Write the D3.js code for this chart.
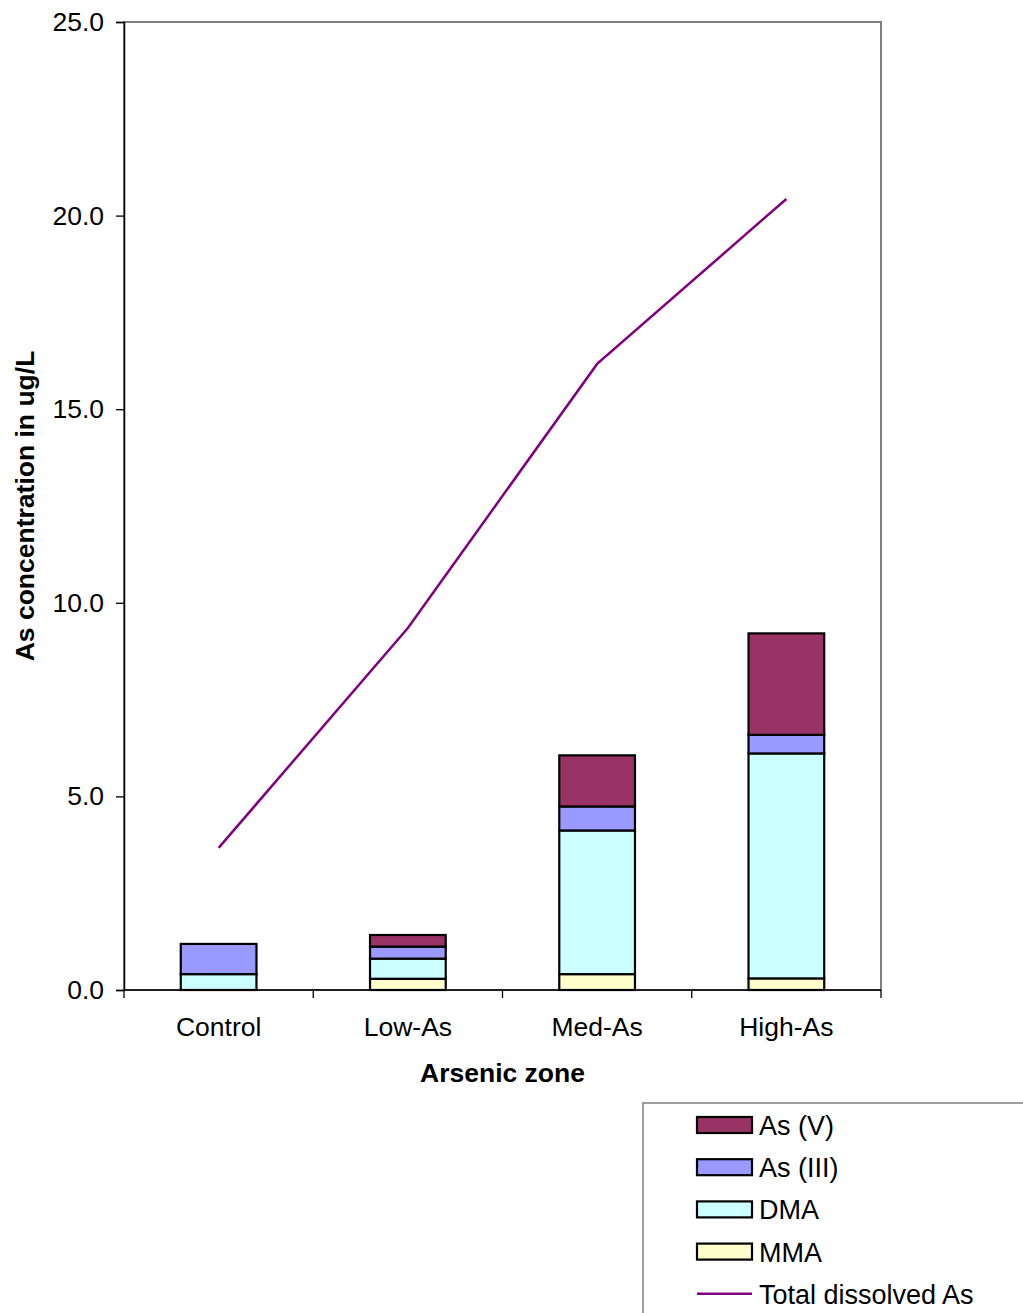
<!DOCTYPE html>
<html>
<head>
<meta charset="utf-8">
<script src="https://cdn.jsdelivr.net/npm/d3@7"></script>
<style>
  html, body { margin: 0; padding: 0; background: #fff; }
  svg { display: block; font-family: "Liberation Sans", Arial, sans-serif; }
</style>
</head>
<body>
<svg id="chart" width="1023" height="1313"></svg>
<script>
// Arsenic species by zone (ug/L)
const zones = ["Control", "Low-As", "Med-As", "High-As"];
const mma   = [0.00, 0.29, 0.41, 0.30];
const dma   = [0.41, 0.52, 3.71, 5.81];
const as3   = [0.78, 0.31, 0.62, 0.48];
const as5   = [0.00, 0.30, 1.32, 2.62];
const totalDissolved = [3.67, 9.35, 16.17, 20.43];
const yTicks = [0, 5, 10, 15, 20, 25];

// stacking order bottom → top
const seriesNames  = ["MMA", "DMA", "As (III)", "As (V)"];
const seriesValues = [mma, dma, as3, as5];
const seriesColors = ["#FFFFCC", "#CCFFFF", "#9999FF", "#993366"];

const FS = 26.5;
const svg = d3.select("#chart");
const plot = { left: 124, right: 881, top: 22, bottom: 990 };

const x = d3.scaleBand().domain(zones).range([plot.left, plot.right]).paddingInner(0).paddingOuter(0);
const y = d3.scaleLinear().domain([0, 25]).range([plot.bottom, plot.top]);

// plot area frame (top / right)
svg.append("rect")
  .attr("x", plot.left).attr("y", plot.top)
  .attr("width", plot.right - plot.left).attr("height", plot.bottom - plot.top)
  .attr("fill", "none").attr("stroke", "#808080").attr("stroke-width", 2);

// stacked bars
const rows = zones.map((z, i) => {
  const r = { zone: z };
  seriesNames.forEach((n, k) => r[n] = seriesValues[k][i]);
  return r;
});
const stacked = d3.stack().keys(seriesNames)(rows);
const barW = x.bandwidth() * 0.4;

stacked.forEach((layer, k) => {
  svg.append("g").selectAll("rect")
    .data(layer.filter(d => d[1] - d[0] > 0))
    .join("rect")
    .attr("x", d => x(d.data.zone) + (x.bandwidth() - barW) / 2)
    .attr("y", d => y(d[1]))
    .attr("width", barW)
    .attr("height", d => y(d[0]) - y(d[1]))
    .attr("fill", seriesColors[k])
    .attr("stroke", "#000")
    .attr("stroke-width", 2.2);
});

// total dissolved As line
const line = d3.line()
  .x((d, i) => x(zones[i]) + x.bandwidth() / 2)
  .y(d => y(d));
svg.append("path")
  .datum(totalDissolved)
  .attr("d", line)
  .attr("fill", "none")
  .attr("stroke", "#800080")
  .attr("stroke-width", 2.5);

// y axis
const yAxis = d3.axisLeft(y).tickValues(yTicks).tickFormat(d3.format(".1f")).tickSize(8).tickPadding(12);
const gy = svg.append("g").attr("transform", `translate(${plot.left},0)`).call(yAxis)
  .attr("font-size", FS).attr("font-family", "'Liberation Sans', Arial, sans-serif");
gy.select(".domain").attr("stroke", "#000").attr("stroke-width", 1.5);
gy.selectAll(".tick line").attr("stroke", "#000").attr("stroke-width", 1.3);
gy.selectAll(".tick text").attr("fill", "#000");

// x axis: ticks at category boundaries
const gx = svg.append("g").attr("transform", `translate(0,${plot.bottom})`);
gx.append("line").attr("x1", plot.left).attr("x2", plot.right)
  .attr("y1", 0).attr("y2", 0).attr("stroke", "#000").attr("stroke-width", 1.5);
const boundaries = zones.map(z => x(z)).concat([x(zones[zones.length - 1]) + x.bandwidth()]);
gx.selectAll("line.tk").data(boundaries).join("line").attr("class", "tk")
  .attr("x1", d => d).attr("x2", d => d).attr("y1", 0).attr("y2", 8)
  .attr("stroke", "#000").attr("stroke-width", 1.3);
gx.selectAll("text").data(zones).join("text")
  .attr("x", d => x(d) + x.bandwidth() / 2)
  .attr("y", 46)
  .attr("text-anchor", "middle")
  .attr("font-size", FS)
  .text(d => d);

// axis titles
svg.append("text")
  .attr("x", (plot.left + plot.right) / 2).attr("y", 1082)
  .attr("text-anchor", "middle").attr("font-size", FS).attr("font-weight", "bold")
  .text("Arsenic zone");
svg.append("text")
  .attr("transform", `translate(34,${(plot.top + plot.bottom) / 2}) rotate(-90)`)
  .attr("text-anchor", "middle").attr("font-size", FS).attr("font-weight", "bold")
  .text("As concentration in ug/L");

// legend
const legend = svg.append("g");
legend.append("rect")
  .attr("x", 643).attr("y", 1103).attr("width", 400).attr("height", 230)
  .attr("fill", "#fff").attr("stroke", "#808080").attr("stroke-width", 1.5);

const legendItems = [
  { name: "As (V)", color: "#993366", type: "bar" },
  { name: "As (III)", color: "#9999FF", type: "bar" },
  { name: "DMA", color: "#CCFFFF", type: "bar" },
  { name: "MMA", color: "#FFFFCC", type: "bar" },
  { name: "Total dissolved As", color: "#800080", type: "line" }
];
legendItems.forEach((it, i) => {
  const cy = 1125 + i * 42.2;
  if (it.type === "bar") {
    legend.append("rect")
      .attr("x", 697).attr("y", cy - 8).attr("width", 55).attr("height", 16)
      .attr("fill", it.color).attr("stroke", "#000").attr("stroke-width", 2.2);
  } else {
    legend.append("line")
      .attr("x1", 697).attr("x2", 752).attr("y1", cy).attr("y2", cy)
      .attr("stroke", it.color).attr("stroke-width", 2.5);
  }
  legend.append("text")
    .attr("x", 759).attr("y", cy + 10)
    .attr("font-size", 27)
    .text(it.name);
});
</script>
</body>
</html>
